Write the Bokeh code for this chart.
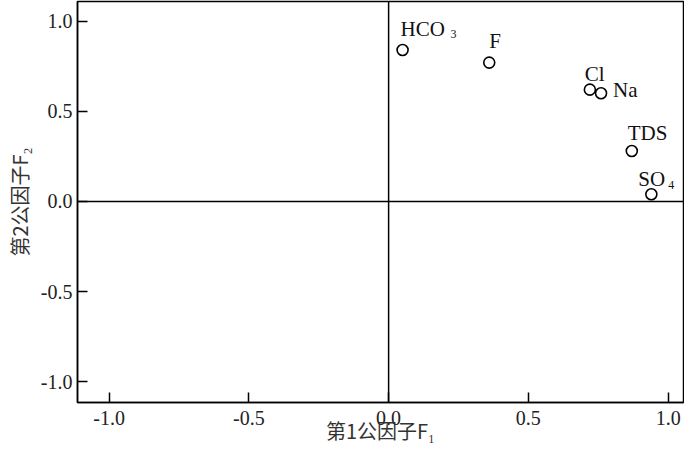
from bokeh.plotting import figure
from bokeh.models import Span, ColumnDataSource, FixedTicker, Range1d
from bokeh.embed import file_html
from bokeh.resources import INLINE
from bokeh.core.properties import value

# ---- data ----
names = ["HCO", "F", "Cl", "Na", "TDS", "SO"]
subs = ["3", "", "", "", "", "4"]
f1 = [0.05, 0.36, 0.72, 0.76, 0.87, 0.94]
f2 = [0.84, 0.77, 0.62, 0.60, 0.28, 0.04]
ticks = [-1.0, -0.5, 0.0, 0.5, 1.0]
tick_labels = ["-1.0", "-0.5", "0.0", "0.5", "1.0"]
x_label = "第1公因子F₁"
y_label = "第2公因子F₂"

# ---- label placement (pixels, style only) ----
dx = [-2, 0, -5, 12, -4, -13]
dy = [-21, -22, -16, -3, -18, -15]
sdx = [48, 0, 0, 0, 0, 17]
sdy = [-16, 0, 0, 0, 0, -9]

serif = "Liberation Serif"
cjk = "Noto Sans CJK SC"

p = figure(width=684, height=450,
           x_range=Range1d(-1.113, 1.055), y_range=Range1d(-1.115, 1.109),
           output_backend="svg", toolbar_location=None,
           min_border_left=77, min_border_right=1,
           min_border_top=1, min_border_bottom=48)

p.grid.visible = False
p.outline_line_color = "black"
p.outline_line_width = 1.5
p.background_fill_color = "white"
p.border_fill_color = "white"

for ax in (p.xaxis[0], p.yaxis[0]):
    ax.ticker = FixedTicker(ticks=ticks)
    ax.major_label_overrides = {t: l for t, l in zip(ticks, tick_labels)}
    ax.major_tick_in = 10
    ax.major_tick_out = 0
    ax.minor_tick_in = 0
    ax.minor_tick_out = 0
    ax.axis_line_color = "black"
    ax.axis_line_width = 1.5
    ax.major_tick_line_color = "black"
    ax.major_tick_line_width = 1.5
    ax.major_label_text_font = serif
    ax.major_label_text_font_size = "20px"
    ax.major_label_text_color = "#222222"
    ax.axis_label_text_font = cjk
    ax.axis_label_text_font_size = "20px"
    ax.axis_label_text_font_style = "normal"
    ax.axis_label_text_color = "#333333"

p.xaxis.axis_label = x_label
p.yaxis.axis_label = y_label
p.xaxis.major_label_standoff = 8
p.yaxis.major_label_standoff = 5
p.xaxis.axis_label_standoff = -12
p.yaxis.axis_label_standoff = 4

p.add_layout(Span(location=0, dimension="width", line_color="black", line_width=1.5))
p.add_layout(Span(location=0, dimension="height", line_color="black", line_width=1.5))

src = ColumnDataSource(dict(x=f1, y=f2, name=names, sub=subs,
                            dx=dx, dy=dy, sdx=sdx, sdy=sdy))

p.scatter("x", "y", source=src, marker="circle", size=11,
          fill_color="white", line_color="black", line_width=1.6)

p.text("x", "y", text="name", source=src, x_offset="dx", y_offset="dy",
       text_font=value(serif), text_font_size="21px", text_color="#111111",
       text_align="left", text_baseline="alphabetic")
p.text("x", "y", text="sub", source=src, x_offset="sdx", y_offset="sdy",
       text_font=value(serif), text_font_size="12px", text_color="#111111",
       text_align="left", text_baseline="alphabetic")

open("out.html", "w").write(file_html(p, INLINE))
